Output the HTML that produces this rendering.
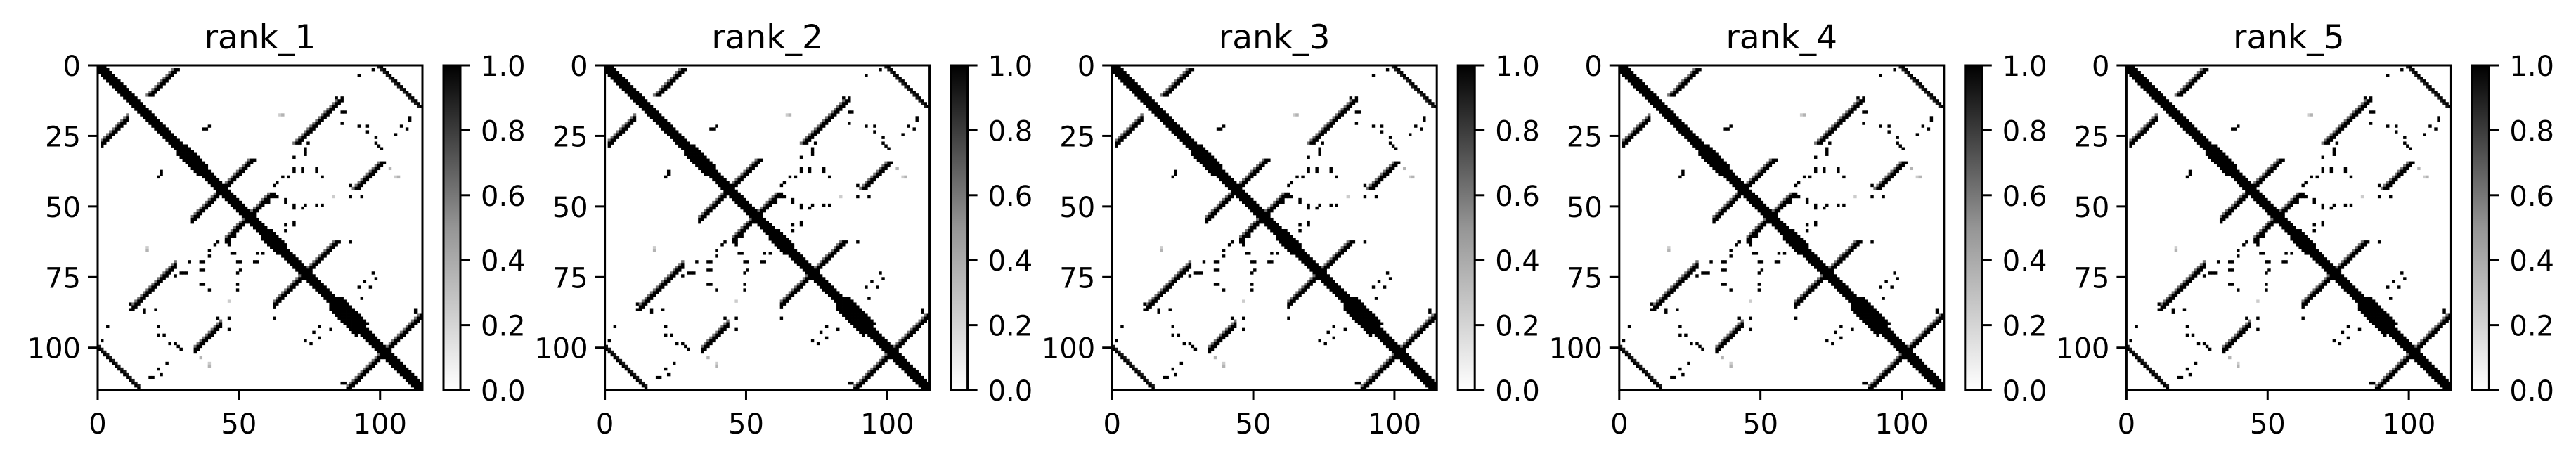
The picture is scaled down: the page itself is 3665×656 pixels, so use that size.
<!DOCTYPE html>
<html><head><meta charset="utf-8"><style>
html,body{margin:0;padding:0;background:#fff;}
svg{display:block;}
text{font-family:"DejaVu Sans","Liberation Sans",sans-serif;fill:#000;}
</style></head><body>
<svg id="fig" width="3665" height="656" viewBox="0 0 3665 656" xmlns="http://www.w3.org/2000/svg">
<defs><linearGradient id="greys" x1="0" y1="1" x2="0" y2="0">
<stop offset="0" stop-color="#ffffff"/><stop offset="0.5" stop-color="#959595"/><stop offset="1" stop-color="#000000"/></linearGradient></defs>
</svg>
<script>
// ---- data ----
const panelTitles = ["rank_1","rank_2","rank_3","rank_4","rank_5"];
const matrixSize = 115;
const axisTicks = [0, 25, 50, 75, 100];
const xAxisTicks = [0, 50, 100];
const cbarTicks = [0.0, 0.2, 0.4, 0.6, 0.8, 1.0];
// main diagonal half-width per region (start, end, halfwidth)
const diagStart = [0, 28, 36, 58, 64, 82, 92];
const diagEnd   = [27, 35, 57, 63, 81, 91, 114];
const diagHalf  = [2, 3, 2, 3, 2, 4, 2];
// antiparallel strands: i + j = sum, i from..to
const antiSum  = [28, 97, 87, 106, 146, 202, 134];
const antiFrom = [1, 12, 33, 45, 62, 88, 34];
const antiTo   = [10, 27, 42, 52, 72, 100, 43];
// parallel strands: j - i = offset
const parOffset = [100];
const parFrom   = [0];
const parTo     = [14];
// scattered contacts [row, col, value]
const dotRow = [39,37,21,22,17,21,25,28,22,18,11,16,27,24,39,37,37,39,39,37,41,46,47,49,49,49,46,46,46,56,58,60,63,62,65,66,69,69,66,69,69,72,73,73,77,79,72,77,92,95,98,100,107,110,85,89,89,89,78,75,82,92,94,97,87,86,86,86,92,97,112,103,105,64,29,30,31,32,33,34];
const dotCol = [21,22,39,38,65,95,98,99,109,110,84,87,74,105,106,72,77,79,67,69,63,62,66,69,73,79,89,93,83,69,66,48,46,42,39,48,50,55,56,36,32,36,31,29,36,39,50,49,21,23,27,29,21,19,62,62,46,42,96,98,93,78,76,73,112,11,16,20,3,1,86,36,39,17,73,73,73,35,35,36];
const dotVal = [1,1,1,1,0.3,1,1,1,1,1,1,1,1,1,0.3,1,1,1,1,1,1,1,1,1,1,1,1,1,0.2,1,1,1,1,1,1,1,1,1,1,1,1,1,1,1,1,1,1,1,1,1,1,1,1,1,1,1,1,1,1,1,1,1,1,1,1,1,1,1,1,1,1,0.3,0.2,0.2,1,1,1,1,1,1];

// ---- build matrix ----
const M = [];
for (let i = 0; i < matrixSize; i++) { M.push(new Array(matrixSize).fill(0)); }
function setSym(i, j, v) {
  if (i < 0 || j < 0 || i >= matrixSize || j >= matrixSize) return;
  M[i][j] = Math.max(M[i][j], v); M[j][i] = Math.max(M[j][i], v);
}
for (let k = 0; k < diagStart.length; k++)
  for (let i = diagStart[k]; i <= diagEnd[k]; i++)
    for (let d = 0; d <= diagHalf[k]; d++) setSym(i, i + d, 1);
for (let k = 0; k < antiSum.length; k++)
  for (let i = antiFrom[k]; i <= antiTo[k]; i++) {
    setSym(i, antiSum[k] - i, 1);
    setSym(i, antiSum[k] - i + 1, 1);
    setSym(i, antiSum[k] - i - 1, 0.55);
  }
for (let k = 0; k < parOffset.length; k++)
  for (let i = parFrom[k]; i <= parTo[k]; i++) { setSym(i, i + parOffset[k], 1); setSym(i, i + parOffset[k] - 1, 0.9); }
for (let k = 0; k < dotRow.length; k++) setSym(dotRow[k], dotCol[k], dotVal[k]);

// ---- layout ----
const svg = document.getElementById('fig');
const NS = 'http://www.w3.org/2000/svg';
function el(tag, attrs, parent) {
  const e = document.createElementNS(NS, tag);
  for (const k in attrs) e.setAttribute(k, attrs[k]);
  parent.appendChild(e); return e;
}
const axLeft0 = 139, panelStep = 721.6, axTop = 93, axSize = 462;
const cbOffset = 492, cbW = 24;
function grey(v) { const c = Math.round(255 * (1 - v)); return `rgb(${c},${c},${c})`; }

panelTitles.forEach((title, p) => {
  const L = axLeft0 + p * panelStep;
  const g = el('g', {}, svg);
  
  
  const xs = v => L + v * axSize / matrixSize;
  const ys = v => axTop + v * axSize / matrixSize;
  const cell = axSize / matrixSize;
  const cells = el('g', {}, g);
  
  
  for (let i = 0; i < matrixSize; i++) for (let j = 0; j < matrixSize; j++) {
    if (M[i][j] > 0) {
      const r = el('rect', {x: xs(j), y: ys(i), width: cell + 0.4, height: cell + 0.4, fill: grey(M[i][j])}, cells);
      
      
    }
  }
  const frame = el('rect', {x: L, y: axTop, width: axSize, height: axSize, fill: 'none', stroke: '#000', 'stroke-width': 3}, g);
  
  
  const t = el('text', {x: L + axSize / 2, y: 69, 'font-size': 47, 'text-anchor': 'middle'}, g);
  t.textContent = title;
  
  
  axisTicks.forEach(v => {
    el('line', {x1: L - 14, x2: L, y1: ys(v), y2: ys(v), stroke: '#000', 'stroke-width': 3}, g);
    const tl = el('text', {x: L - 24, y: ys(v) + 15, 'font-size': 40, 'text-anchor': 'end'}, g);
    tl.textContent = v;
    
    
  });
  xAxisTicks.forEach(v => {
    el('line', {x1: xs(v), x2: xs(v), y1: axTop + axSize, y2: axTop + axSize + 14, stroke: '#000', 'stroke-width': 3}, g);
    const tl = el('text', {x: xs(v), y: 617, 'font-size': 40, 'text-anchor': 'middle'}, g);
    tl.textContent = v;
    
    
  });
  const cx = L + cbOffset;
  const cb = el('rect', {x: cx, y: axTop, width: cbW, height: axSize, fill: 'url(#greys)', stroke: '#000', 'stroke-width': 3}, g);
  
  
  cbarTicks.forEach(v => {
    const y = axTop + axSize * (1 - v);
    el('line', {x1: cx + cbW, x2: cx + cbW + 14, y1: y, y2: y, stroke: '#000', 'stroke-width': 3}, g);
    const tl = el('text', {x: cx + cbW + 29, y: y + 15, 'font-size': 40}, g);
    tl.textContent = v.toFixed(1);
    
    
  });
});
</script>
</body></html>
